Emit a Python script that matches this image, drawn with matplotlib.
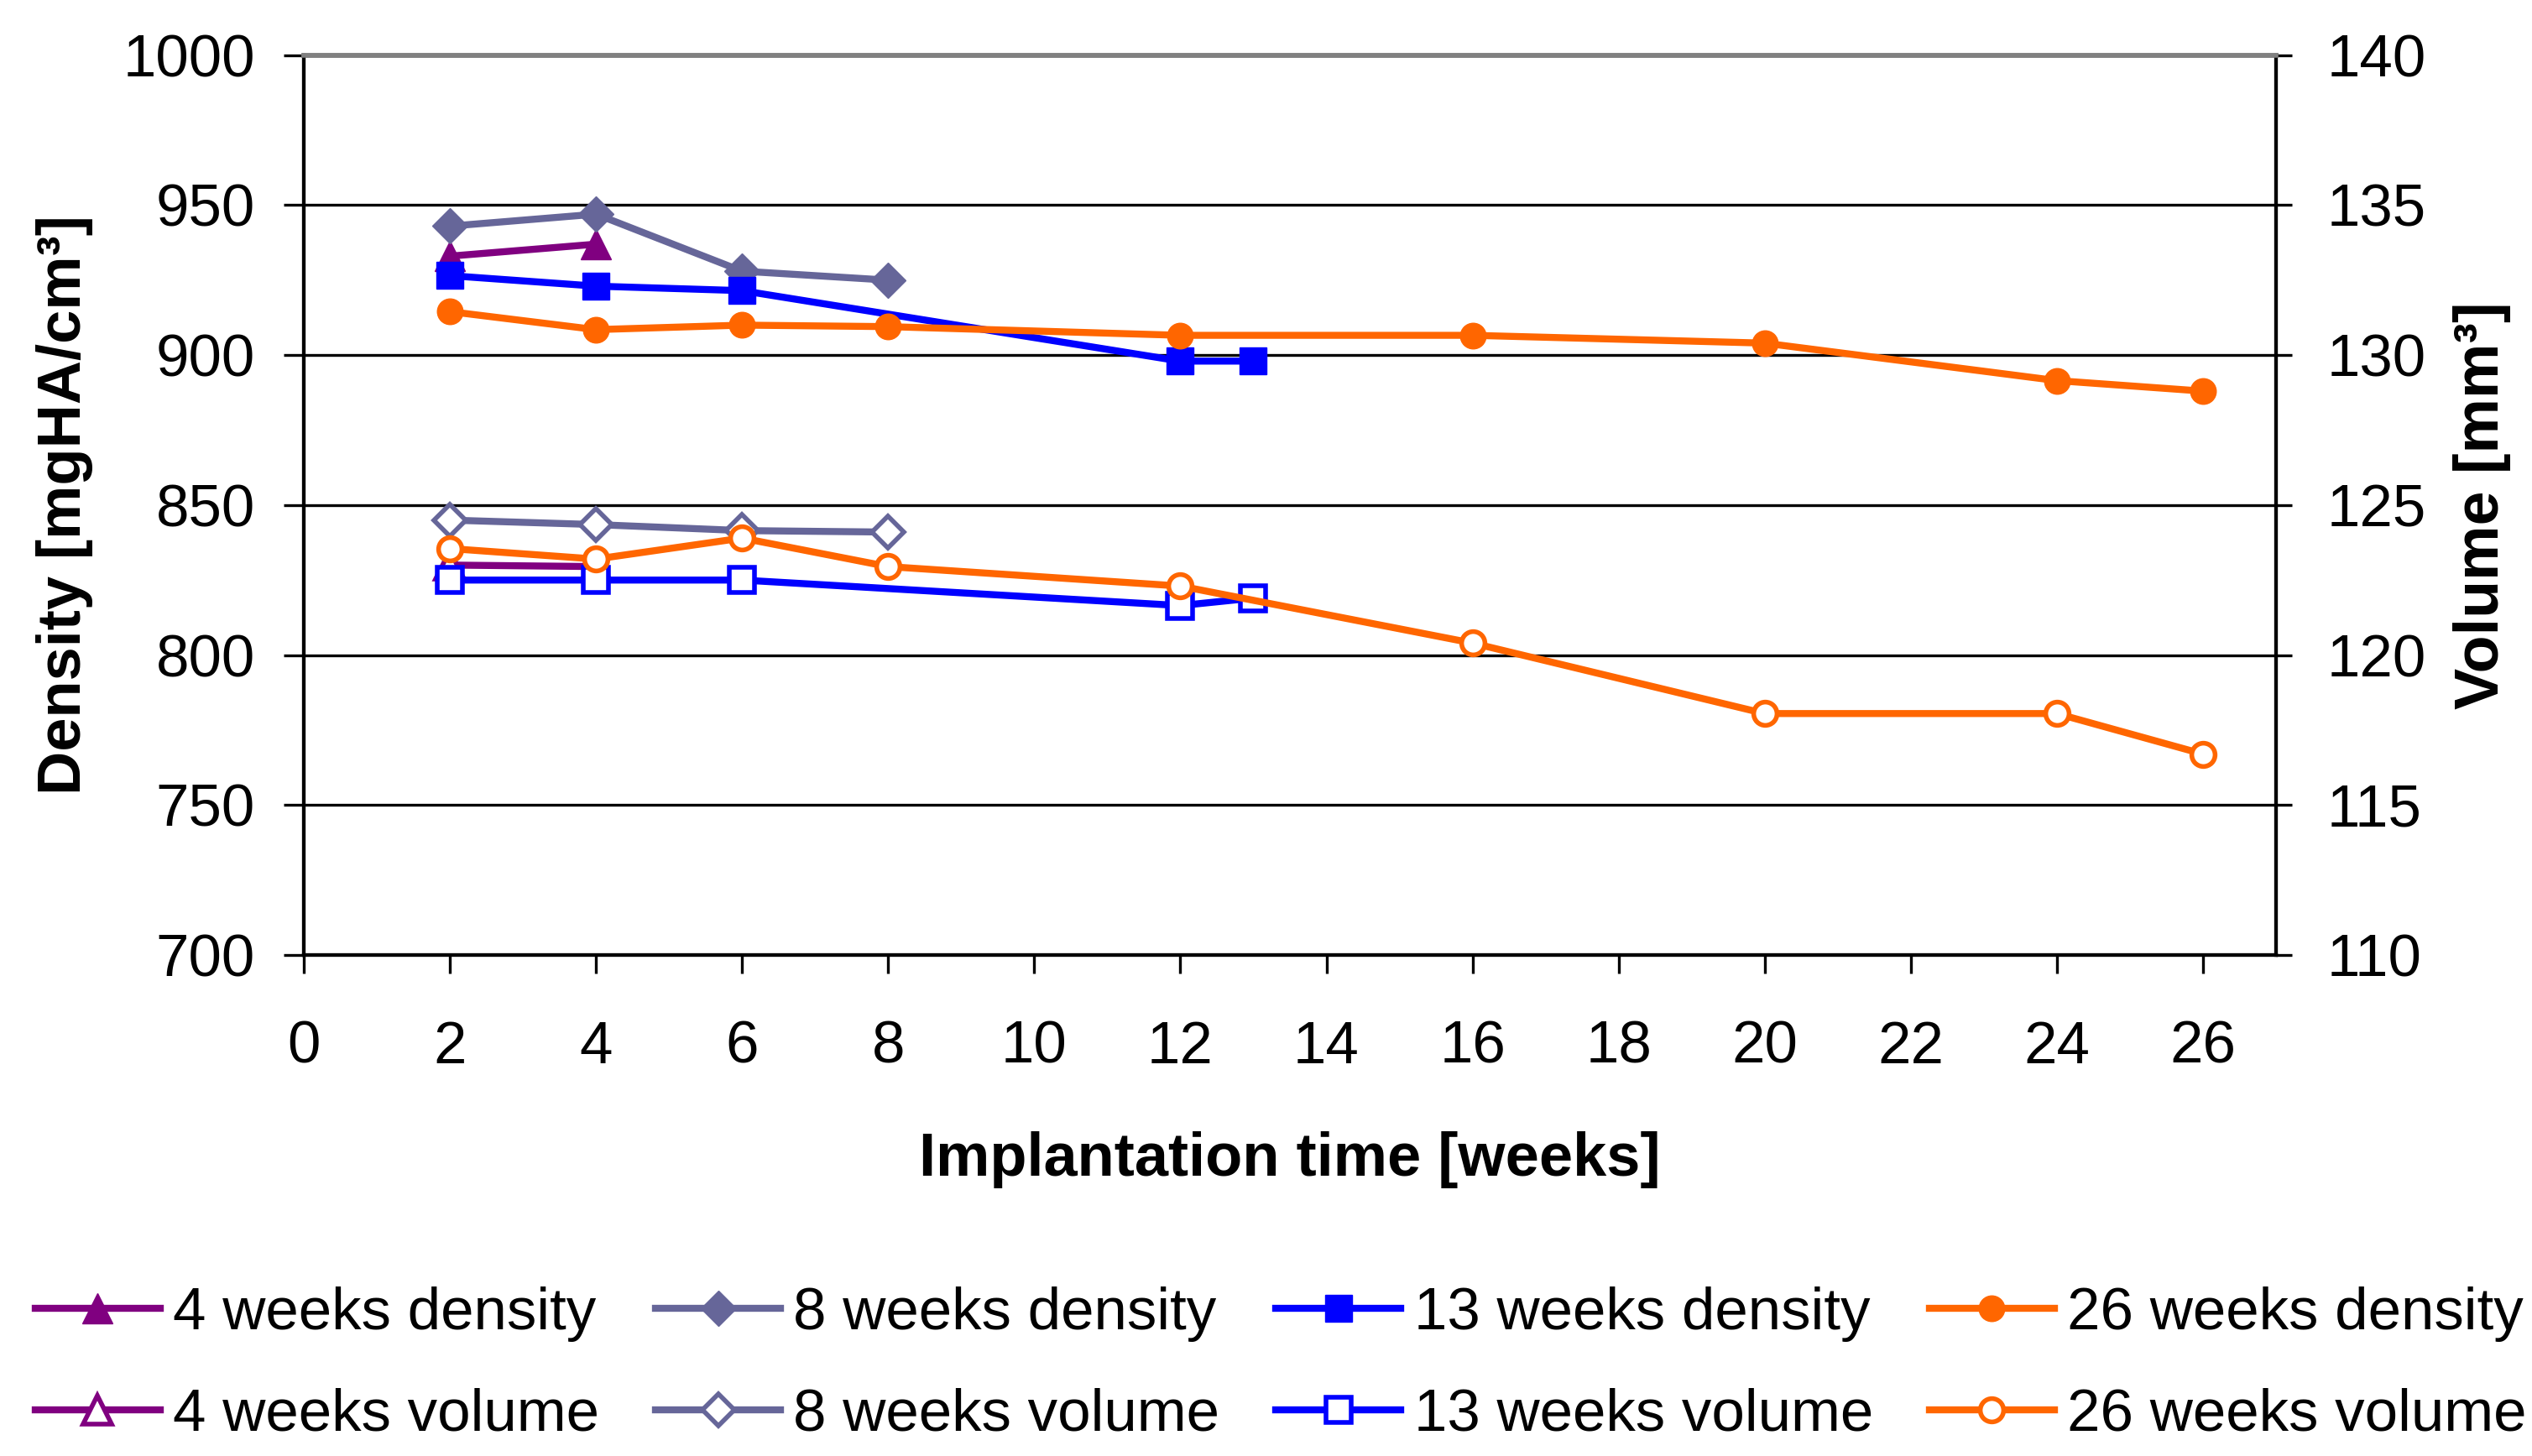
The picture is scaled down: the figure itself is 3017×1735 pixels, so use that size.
import matplotlib.pyplot as plt

plt.rcParams['font.family'] = ['Liberation Sans', 'DejaVu Sans']

# data
weeks4 = [2, 4]
dens4 = [933, 937]
vol4 = [123.0, 122.95]

weeks8 = [2, 4, 6, 8]
dens8 = [943, 947, 928, 925]
vol8 = [124.5, 124.35, 124.15, 124.1]

weeks13 = [2, 4, 6, 12, 13]
dens13 = [926.5, 923, 921.5, 898, 898]
vol13 = [122.5, 122.5, 122.5, 121.65, 121.9]

weeks26 = [2, 4, 6, 8, 12, 16, 20, 24, 26]
dens26 = [914.5, 908.5, 910, 909.5, 906.6, 906.6, 904, 891.5, 888]
vol26 = [123.55, 123.2, 123.9, 122.95, 122.3, 120.4, 118.05, 118.05, 116.7]

groups = ['4 weeks', '8 weeks', '13 weeks', '26 weeks']
colors = ['#800080', '#666699', '#0000FF', '#FF6600']
markers = ['^', 'D', 's', 'o']
msizes = [26, 21, 23, 22]

series = [(weeks4, dens4, vol4), (weeks8, dens8, vol8),
          (weeks13, dens13, vol13), (weeks26, dens26, vol26)]

fig = plt.figure(figsize=(30.17, 17.35), dpi=100)
ax = fig.add_axes([0.120, 0.3441, 0.7789, 0.6180])
ax2 = ax.twinx()

lw = 6
handles = []
for (w, d, v), g, c, m, ms in zip(series, groups, colors, markers, msizes):
    hd, = ax.plot(w, d, color=c, lw=lw, marker=m, ms=ms, mfc=c, mec=c, mew=1,
                  label=g + ' density')
    hv, = ax2.plot(w, v, color=c, lw=lw, marker=m, ms=ms - 2, mfc='white', mec=c,
                   mew=4, label=g + ' volume')
    handles += [hd, hv]

ax.set_xlim(0, 27)
ax.set_ylim(700, 1000)
ax2.set_ylim(110, 140)
ax.set_xticks(range(0, 27, 2))
ax.set_yticks(range(700, 1001, 50))
ax2.set_yticks(range(110, 141, 5))

ax.grid(axis='y', color='black', lw=2.4)
ax.set_axisbelow(True)

for a in (ax, ax2):
    for s in ['left', 'right', 'bottom']:
        a.spines[s].set_color('black')
        a.spines[s].set_linewidth(3)
    a.spines['top'].set_color('#808080')
    a.spines['top'].set_linewidth(4)

ax.tick_params(axis='y', direction='out', length=17, width=2.4, pad=25, labelsize=51)
ax.tick_params(axis='x', direction='out', length=16, width=2.4, pad=40, labelsize=51)
ax2.tick_params(axis='y', direction='out', length=14, width=2.4, pad=30, labelsize=51)

ax.set_xlabel('Implantation time [weeks]', fontsize=52, fontweight='bold', labelpad=48)
ax.set_ylabel('Density [mgHA/cm³]', fontsize=52, fontweight='bold', labelpad=25)
ax2.set_ylabel('Volume [mm³]', fontsize=53, fontweight='bold', labelpad=23)

fig.legend(handles=handles, loc='center', ncol=4, mode='expand',
           bbox_to_anchor=(0.0139, 0.0, 0.984, 0.125), frameon=False,
           fontsize=51, handlelength=2.1, handletextpad=0.22,
           labelspacing=0.77, borderaxespad=0, borderpad=0)

fig.savefig('out.png', dpi=100)
